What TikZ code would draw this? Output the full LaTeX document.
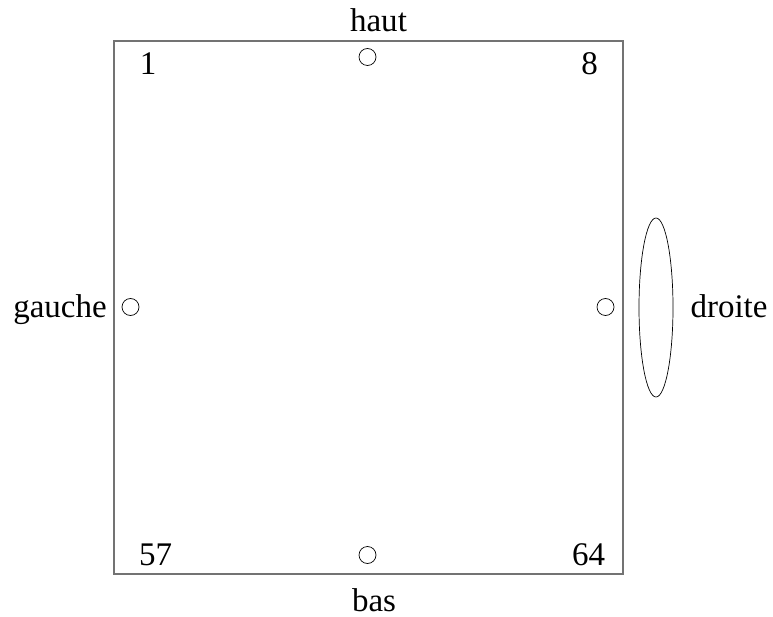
\documentclass[tikz,border=0pt]{standalone}
\usepackage{fontspec}
\setmainfont{Liberation Serif}
\usepackage{tikz}
\usetikzlibrary{positioning,shapes.geometric}
\tikzset{
  board/.style={draw=black!55, line width=1.1pt, minimum width=509pt,
                minimum height=533pt, inner sep=0pt},
  hole/.style={circle, draw, line width=0.7pt, minimum size=17pt, inner sep=0pt},
  lens/.style={ellipse, draw, line width=0.7pt, minimum width=34pt,
               minimum height=179pt, inner sep=0pt},
  lbl/.style={font=\fontsize{33}{40}\selectfont, inner sep=0pt, anchor=base}
}

\begin{document}
\begin{tikzpicture}[x=1pt, y=-1pt]
  \useasboundingbox (0,0) rectangle (773,617);
  \node[board] (sq) at (368.5,307.5) {};
  % trous
  \node[hole] (h) at (367.5,57) {};
  \node[hole] (b) at (367.5,555) {};
  \node[hole] (g) at (130.5,307) {};
  \node[hole] (d) at (605.5,307) {};
  \node[lens] (el) at (656,307.5) {};
  % textes
  \node[lbl] (thaut) at (378.5,32) {haut};
  \node[lbl] (tbas) at (374,611) {bas};
  \node[lbl] (tgauche) at (60,317) {gauche};
  \node[lbl] (tdroite) at (729,317) {droite};
  \node[lbl] (n1) at (148,75) {1};
  \node[lbl] (n8) at (589.5,75) {8};
  \node[lbl] (n57) at (155.5,565) {57};
  \node[lbl] (n64) at (588.5,565) {64};
\end{tikzpicture}
\end{document}
